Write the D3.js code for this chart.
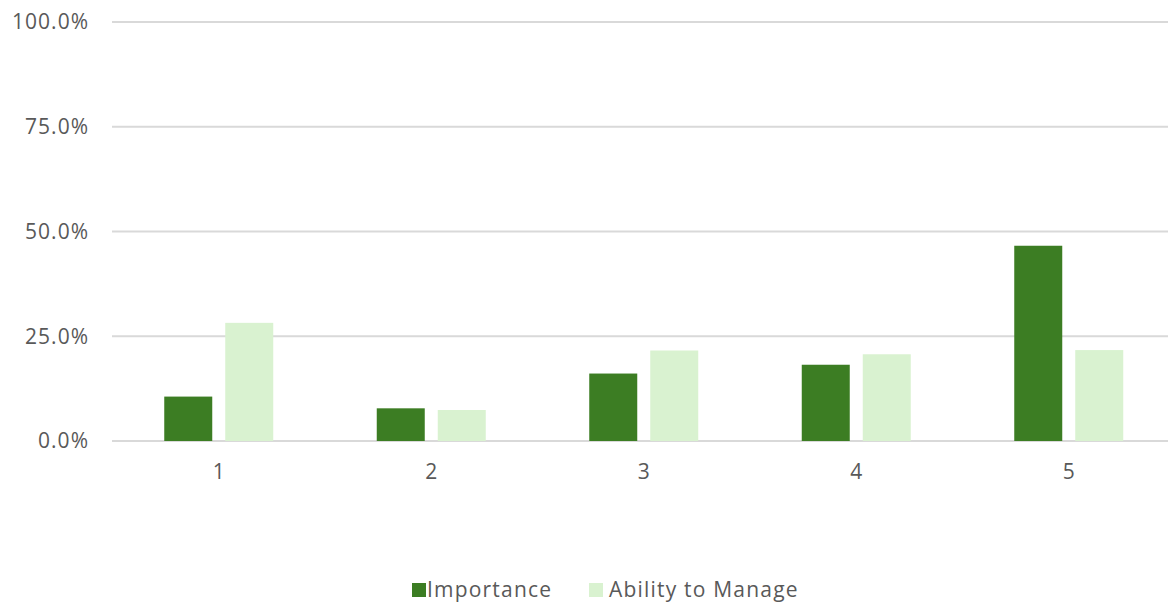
<!DOCTYPE html>
<html><head><meta charset="utf-8">
<script src="https://cdn.jsdelivr.net/npm/d3@7"></script>
<style>body{margin:0;background:#fff}svg{display:block}text{font-family:"Open Sans",sans-serif;fill:#595959}</style>
</head><body>
<svg id="c" width="1168" height="602"></svg>
<script>
const categories = ["1","2","3","4","5"];
const seriesNames = ["Importance","Ability to Manage"];
const importance = [0.106,0.078,0.161,0.182,0.466];
const ability = [0.282,0.074,0.216,0.207,0.217];
const yTicks = [0,0.25,0.5,0.75,1.0];
const colors = ["#3c7d23","#d9f2d0"];

const svg = d3.select("#c");
const x = d3.scaleBand().domain(categories).range([112.5,1175]);
const y = d3.scaleLinear().domain([0,1]).range([441,22]);
const barW = 48, gap = 13;

// gridlines
svg.append("g").selectAll("line").data(yTicks).join("line")
  .attr("x1",112).attr("x2",1168)
  .attr("y1",d=>y(d)).attr("y2",d=>y(d))
  .attr("stroke","#d9d9d9").attr("stroke-width",2);

// y labels
svg.append("g").selectAll("text").data(yTicks).join("text")
  .attr("x",89).attr("y",d=>y(d)).attr("dy","0.35em")
  .attr("text-anchor","end").attr("font-size",21).attr("letter-spacing",1)
  .text(d=>d3.format(".1%")(d));

const data = [importance, ability];
data.forEach((vals,si)=>{
  svg.append("g").selectAll("rect").data(vals).join("rect")
    .attr("x",(d,i)=>x(categories[i])+x.bandwidth()/2 + (si===0 ? -gap/2-barW : gap/2))
    .attr("width",barW)
    .attr("y",d=>y(d)).attr("height",d=>y(0)-y(d))
    .attr("fill",colors[si]);
});

// x labels
svg.append("g").selectAll("text").data(categories).join("text")
  .attr("x",d=>x(d)+x.bandwidth()/2).attr("y",479)
  .attr("text-anchor","middle").attr("font-size",21)
  .text(d=>d);

// legend
const leg = [{n:seriesNames[0],sx:412,tx:427},{n:seriesNames[1],sx:589,tx:609}];
leg.forEach((l,i)=>{
  svg.append("rect").attr("x",l.sx).attr("y",583).attr("width",14).attr("height",14).attr("fill",colors[i]);
  svg.append("text").attr("x",l.tx).attr("y",597).attr("font-size",21).attr("letter-spacing",1.2).text(l.n);
});
</script>
</body></html>
